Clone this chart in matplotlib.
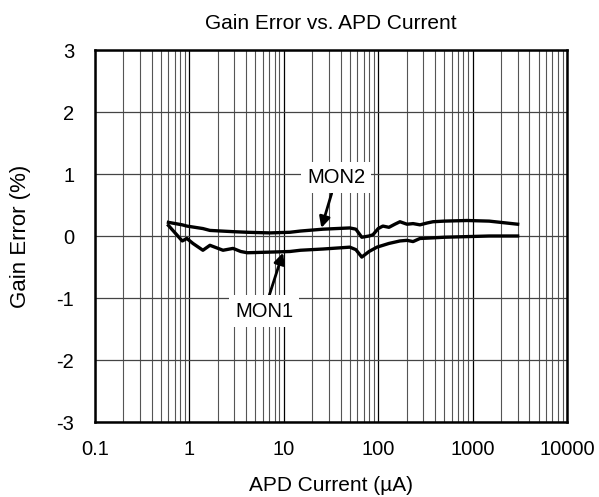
import matplotlib
matplotlib.use("Agg")
import matplotlib.pyplot as plt
from matplotlib.ticker import LogLocator, NullFormatter, FixedLocator

plt.rcParams.update({
    "font.family": ["Liberation Sans", "DejaVu Sans"],
    "font.size": 14.5,
    "axes.unicode_minus": False,
})

# APD current (uA) and gain error (%)
mon2_x = [0.6, 0.84, 0.94, 1.39, 1.65, 2.9, 4.1, 7.1, 11.6, 15, 26, 50, 58, 67,
          80, 88, 100, 112, 130, 150, 170, 202, 234, 277, 330, 381, 500, 873, 1500, 3000]
mon2_y = [0.22, 0.18, 0.16, 0.12, 0.09, 0.07, 0.06, 0.05, 0.06, 0.08, 0.11, 0.13, 0.11, -0.02,
          0.0, 0.02, 0.12, 0.16, 0.14, 0.19, 0.23, 0.19, 0.20, 0.18, 0.21, 0.23, 0.24, 0.25, 0.24, 0.19]

mon1_x = [0.6, 0.84, 0.94, 1.09, 1.39, 1.65, 2.27, 2.9, 3.5, 4.1, 7.1, 11.6, 15, 26, 50, 58,
          67, 80, 97, 130, 170, 202, 234, 277, 381, 500, 873, 1500, 3000]
mon1_y = [0.17, -0.08, -0.04, -0.12, -0.23, -0.15, -0.23, -0.20, -0.25, -0.27, -0.26, -0.25, -0.23, -0.21,
          -0.18, -0.22, -0.34, -0.25, -0.18, -0.12, -0.08, -0.07, -0.09, -0.04, -0.03, -0.02, -0.01, 0.0, 0.0]

y_ticks = [-3, -2, -1, 0, 1, 2, 3]
x_ticks = [0.1, 1, 10, 100, 1000, 10000]
x_labels = ["0.1", "1", "10", "100", "1000", "10000"]

fig = plt.figure(figsize=(5.99, 4.97), dpi=100)
ax = fig.add_axes([95/599, 1 - 422/497, 472/599, 372/497])

ax.plot(mon2_x, mon2_y, color="black", lw=2.4, solid_joinstyle="round", zorder=3)
ax.plot(mon1_x, mon1_y, color="black", lw=2.4, solid_joinstyle="round", zorder=3)

ax.set_xscale("log")
ax.set_xlim(0.1, 10000)
ax.set_ylim(-3, 3)
ax.xaxis.set_major_locator(FixedLocator(x_ticks))
ax.set_xticklabels(x_labels)
ax.xaxis.set_minor_locator(LogLocator(base=10, subs=range(2, 10), numticks=20))
ax.xaxis.set_minor_formatter(NullFormatter())
ax.set_yticks(y_ticks)
ax.grid(which="major", axis="x", color="black", lw=0.9)
ax.grid(which="minor", axis="x", color="#555555", lw=0.8)
ax.grid(which="major", axis="y", color="#444444", lw=0.9)
ax.tick_params(which="both", length=0)
ax.tick_params(axis="x", pad=13)
ax.tick_params(axis="y", pad=15)
for s in ax.spines.values():
    s.set_linewidth(1.8)

ax.set_title("Gain Error vs. APD Current", fontsize=15, pad=15)
ax.set_xlabel("APD Current (µA)", fontsize=15, labelpad=12)
ax.set_ylabel("Gain Error (%)", fontsize=16, labelpad=18)

box = dict(boxstyle="square,pad=0.3", fc="white", ec="none")
arrow = dict(arrowstyle="-|>", color="black", lw=2, mutation_scale=16, shrinkA=0, shrinkB=0)
ax.annotate("MON2", xy=(25, 0.13), xytext=(36, 0.94), ha="center", va="center",
            bbox=box, arrowprops=arrow, zorder=5)
ax.annotate("MON1", xy=(9.8, -0.27), xytext=(6.2, -1.21), ha="center", va="center",
            bbox=box, arrowprops=arrow, zorder=5)

fig.savefig("out.png", dpi=100)
